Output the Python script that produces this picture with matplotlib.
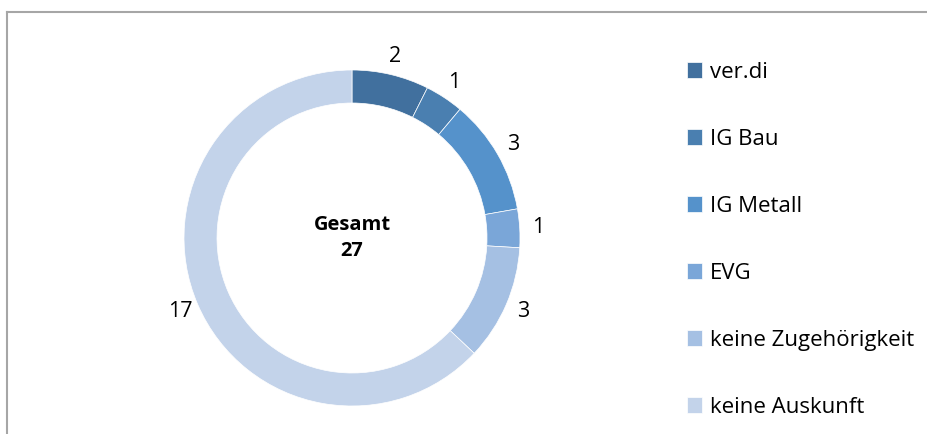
import matplotlib.pyplot as plt
from matplotlib.lines import Line2D

plt.rcParams['font.family'] = ['Open Sans', 'DejaVu Sans']

categories = ['ver.di', 'IG Bau', 'IG Metall', 'EVG', 'keine Zugehörigkeit', 'keine Auskunft']
values = [2, 1, 3, 1, 3, 17]
colors = ['#41709e', '#4a7fb0', '#5592cb', '#7aa6d8', '#a5c0e3', '#c3d3ea']
total = sum(values)

W, H = 928, 434
fig = plt.figure(figsize=(W / 100, H / 100), dpi=100)

# frame around the chart area (left + top visible)
fig.add_artist(Line2D([7 / W, 7 / W], [0, 1 - 12 / H], color='#a6a6a6', lw=1.5, transform=fig.transFigure))
fig.add_artist(Line2D([7 / W, 1], [1 - 12 / H, 1 - 12 / H], color='#a6a6a6', lw=1.5, transform=fig.transFigure))

R = 168
cx, cy = 352, H - 238
lim = 1.2
side = 2 * lim * R
ax = fig.add_axes([(cx - side / 2) / W, (cy - side / 2) / H, side / W, side / H])
wedges, texts = ax.pie(values, labels=[str(v) for v in values], colors=colors,
                       startangle=90, counterclock=False, radius=1,
                       labeldistance=1.11,
                       wedgeprops=dict(width=33 / R, edgecolor='white', linewidth=0.5),
                       textprops=dict(fontsize=15.5, color='black'))
for t in texts:
    t.set_horizontalalignment('center')
    t.set_verticalalignment('center')
ax.set_xlim(-lim, lim)
ax.set_ylim(-lim, lim)
ax.axis('off')
ax.text(0, 0.0, 'Gesamt\n%d' % total, ha='center', va='center', fontsize=14.5,
        fontweight='bold', linespacing=1.4)

fig.legend(wedges, categories, loc='upper left', bbox_to_anchor=(678 / W, 1 - 53 / H),
           frameon=False, fontsize=16, handlelength=0.68, handleheight=0.68,
           handletextpad=0.35, labelspacing=2.07, borderaxespad=0)

fig.savefig('out.png', dpi=100)
